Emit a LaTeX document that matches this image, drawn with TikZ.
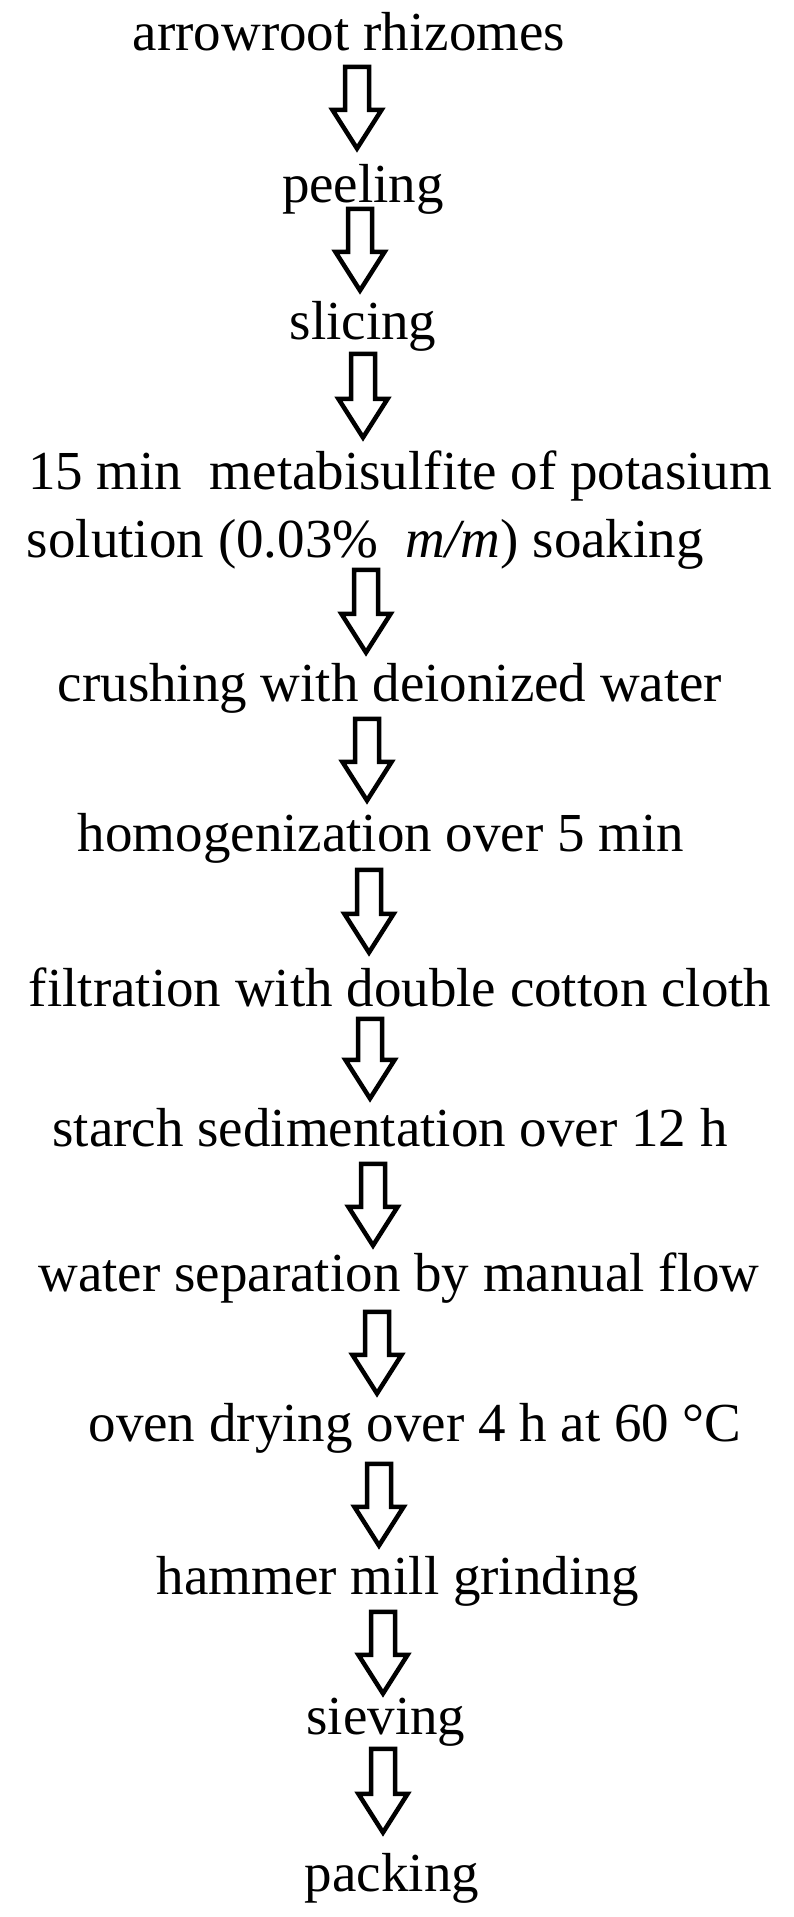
\documentclass[tikz,border=0pt]{standalone}
\usepackage{fontspec}
\setmainfont{Liberation Serif}
\usetikzlibrary{calc}
\newcommand\blockarrow[2]{%
  \draw[blockarrow] let \p1=(#1), \p2=(#2) in
    (\x1-12pt,\y1-2pt) -- (\x1+12pt,\y1-2pt) -- (\x1+12pt,\y2+43pt) --
    (\x1+24.5pt,\y2+43pt) -- (\x1,\y2+4.5pt) -- (\x1-24.5pt,\y2+43pt) --
    (\x1-12pt,\y2+43pt) -- cycle;}
\begin{document}
\begin{tikzpicture}[x=1pt,y=1pt,
  steplabel/.style={inner sep=0pt, outer sep=0pt, font=\fontsize{55}{66}\selectfont},
  blockarrow/.style={draw=black, line width=4.5pt, line join=miter, fill=white}]
\fill[white] (0,0) rectangle (793,1917);
\useasboundingbox (0,0) rectangle (793,1917);
% texts
\node[steplabel, anchor=base] (t1) at (349,1866) {arrowroot rhizomes};
\node[steplabel, anchor=base] (t2) at (363,1714) {peeling};
\node[steplabel, anchor=base] (t3) at (363,1577) {slicing};
\node[steplabel, anchor=base west] (t4) at (28,1427) {15 min\ \ metabisulfite of potasium};
\node[steplabel, anchor=base west] (t5) at (27,1359) {solution (0.03\%\ \ \textit{m/m}) soaking};
\node[steplabel, anchor=base] (t6) at (390,1215) {crushing with deionized water};
\node[steplabel, anchor=base] (t7) at (381,1065) {homogenization over 5 min};
\node[steplabel, anchor=base] (t8) at (400,910) {filtration with double cotton cloth};
\node[steplabel, anchor=base] (t9) at (390,770) {starch sedimentation over 12 h};
\node[steplabel, anchor=base] (t10) at (399,625) {water separation by manual flow};
\node[steplabel, anchor=base] (t11) at (415,475) {oven drying over 4 h at 60 °C};
\node[steplabel, anchor=base] (t12) at (398,322) {hammer mill grinding};
\node[steplabel, anchor=base] (t13) at (386,182) {sieving};
\node[steplabel, anchor=base] (t14) at (392,25) {packing};
% arrow end points
\coordinate (a1s) at (357,1852);  \coordinate (a1e) at (357,1764);
\coordinate (a2s) at (360,1710);  \coordinate (a2e) at (360,1622);
\coordinate (a3s) at (363,1565);  \coordinate (a3e) at (363,1475);
\coordinate (a4s) at (366,1349);  \coordinate (a4e) at (366,1260);
\coordinate (a5s) at (367,1200);  \coordinate (a5e) at (367,1112);
\coordinate (a6s) at (369,1049);  \coordinate (a6e) at (369,960);
\coordinate (a7s) at (370,900);   \coordinate (a7e) at (370,814);
\coordinate (a8s) at (373,755);   \coordinate (a8e) at (373,667);
\coordinate (a9s) at (377,607);   \coordinate (a9e) at (377,519);
\coordinate (a10s) at (379,455);  \coordinate (a10e) at (379,367);
\coordinate (a11s) at (383,307);  \coordinate (a11e) at (383,219);
\coordinate (a12s) at (383,170);  \coordinate (a12e) at (383,80);
\blockarrow{a1s}{a1e}
\blockarrow{a2s}{a2e}
\blockarrow{a3s}{a3e}
\blockarrow{a4s}{a4e}
\blockarrow{a5s}{a5e}
\blockarrow{a6s}{a6e}
\blockarrow{a7s}{a7e}
\blockarrow{a8s}{a8e}
\blockarrow{a9s}{a9e}
\blockarrow{a10s}{a10e}
\blockarrow{a11s}{a11e}
\blockarrow{a12s}{a12e}
\end{tikzpicture}
\end{document}
